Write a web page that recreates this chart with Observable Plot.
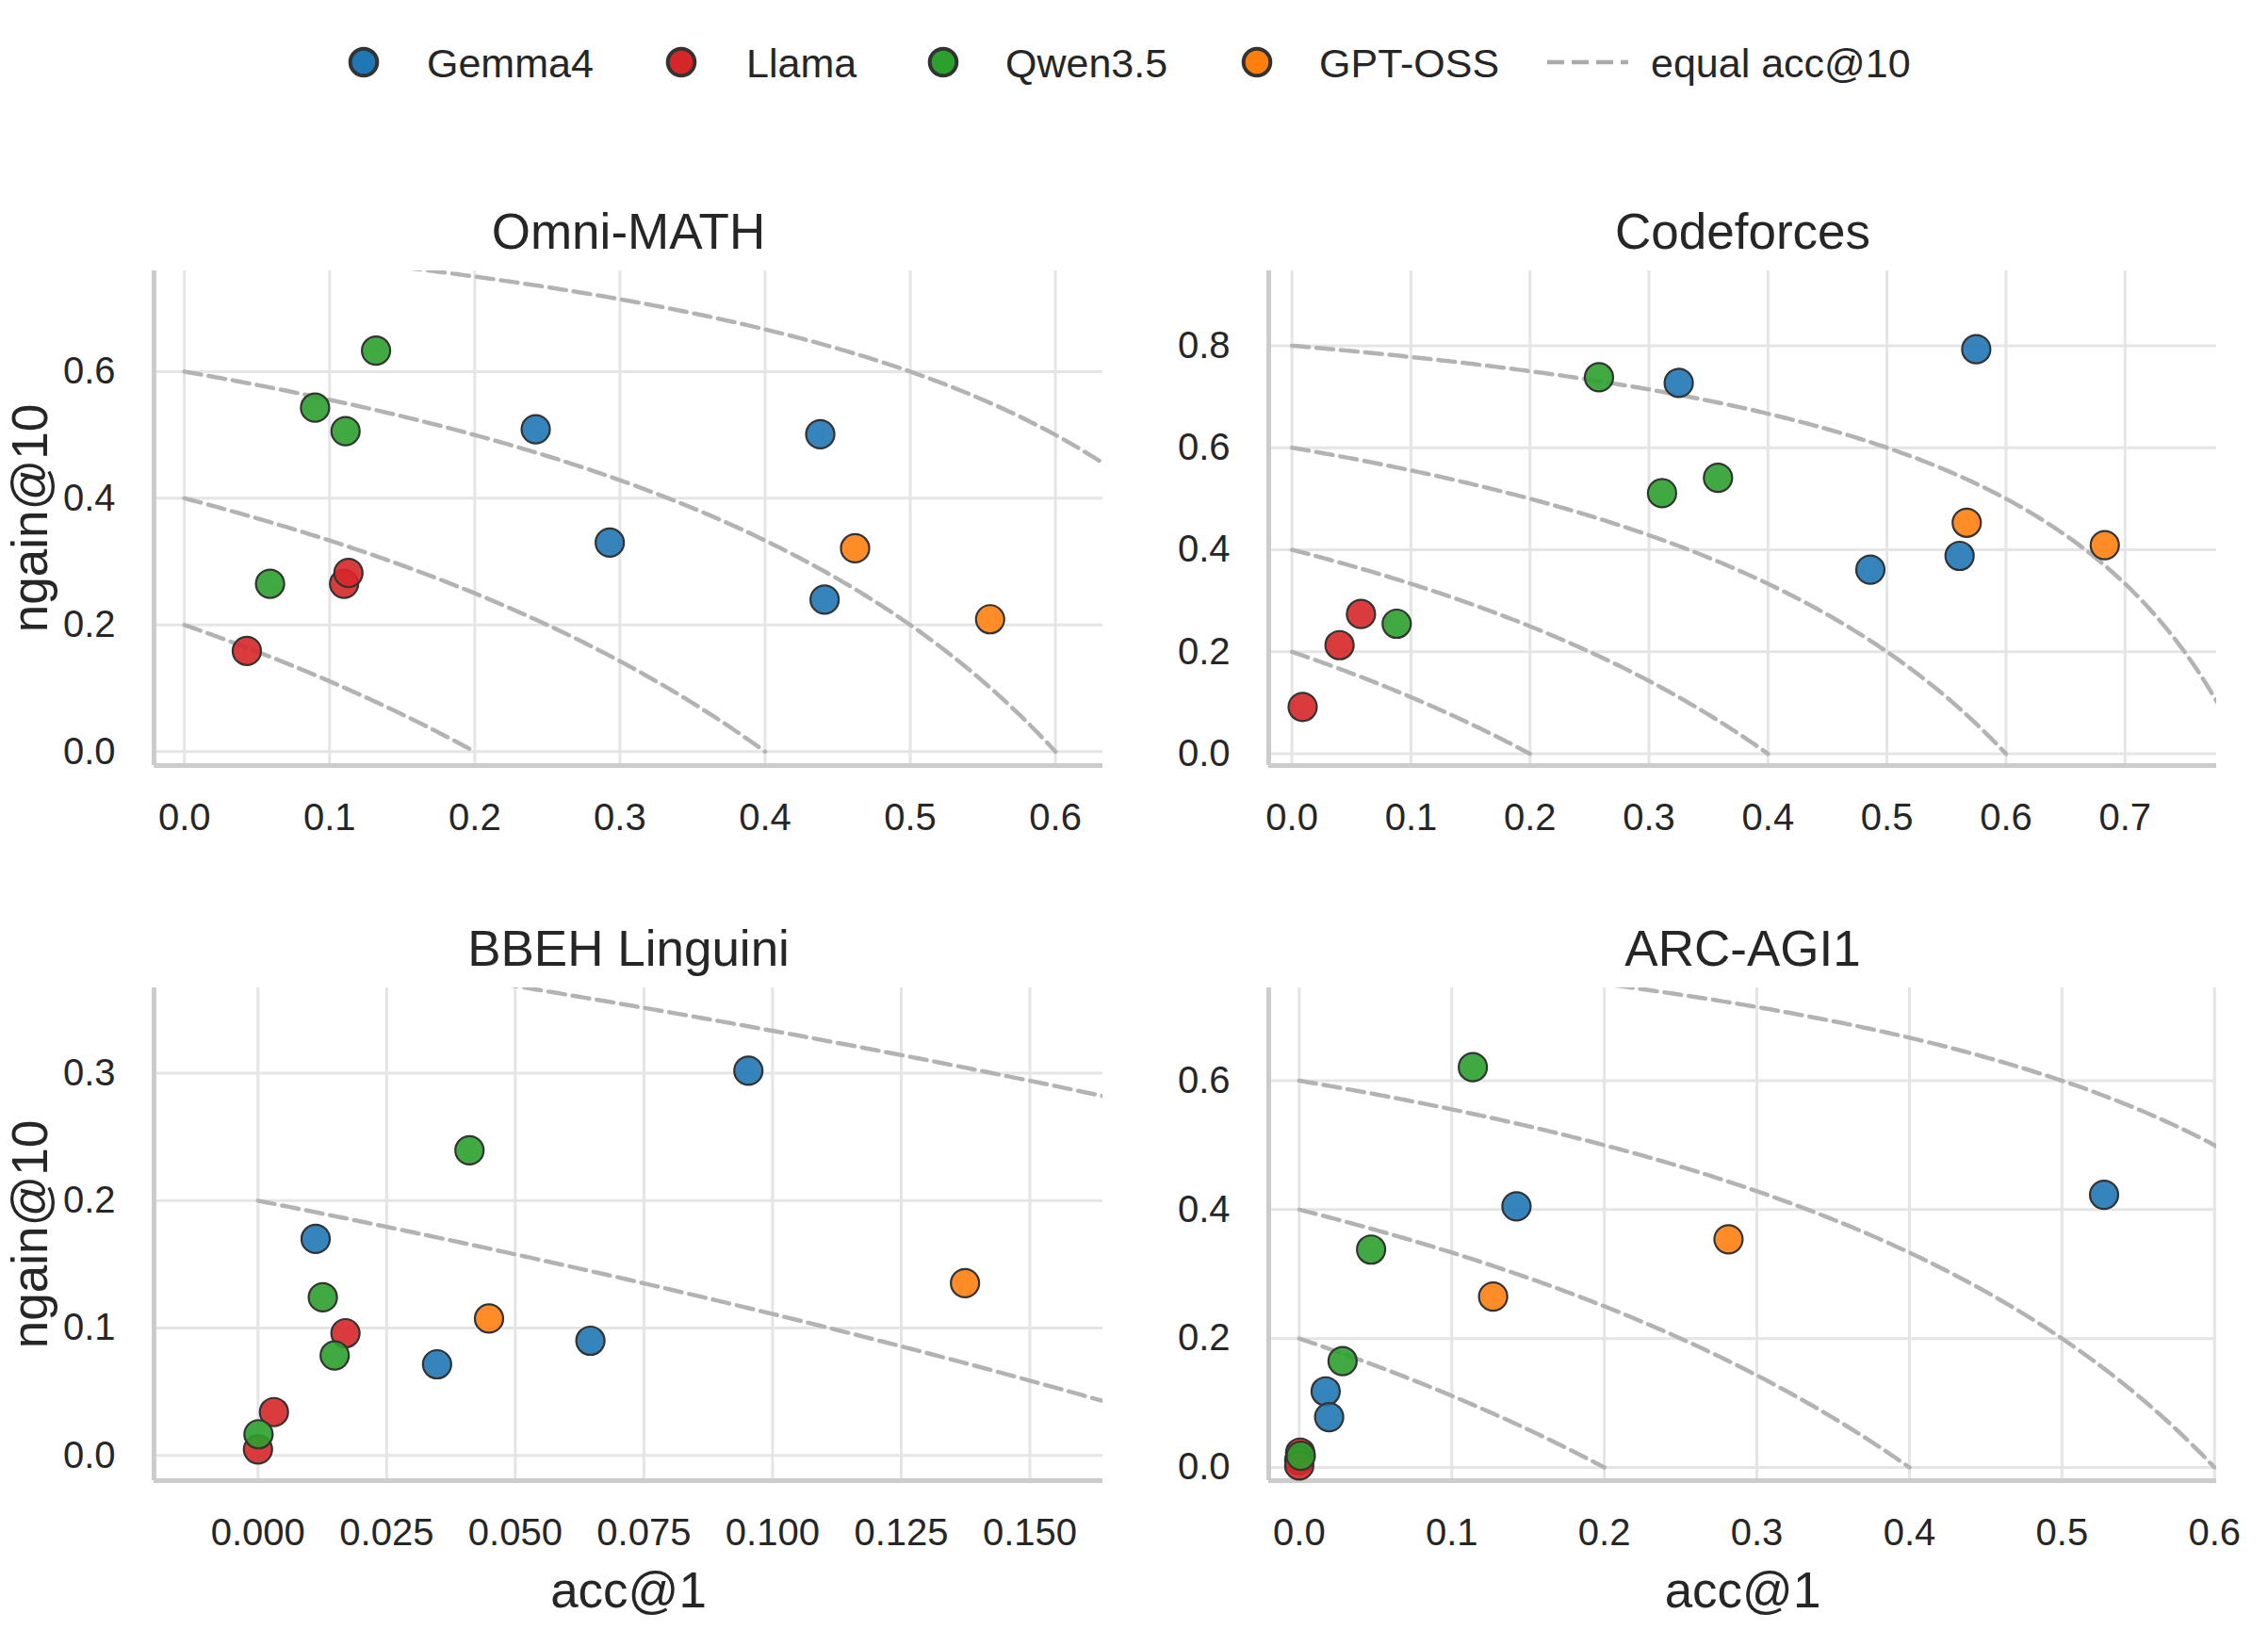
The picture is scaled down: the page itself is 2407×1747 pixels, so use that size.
<!DOCTYPE html>
<html>
<head>
<meta charset="utf-8">
<script src="https://cdn.jsdelivr.net/npm/d3@7"></script>
<script src="https://cdn.jsdelivr.net/npm/@observablehq/plot@0.6"></script>
<style>
  body { margin: 0; background: #fff; font-family: "Liberation Sans", Arial, Helvetica, sans-serif; }
  #page { position: relative; width: 2407px; height: 1747px; overflow: hidden; background: #fff; }
  .panel { position: absolute; }
</style>
</head>
<body>
<div id="page"></div>
<script>
// Model families and their colours
const families = ["Gemma4", "Llama", "Qwen3.5", "GPT-OSS"];
const familyColors = ["#1f77b4", "#d62728", "#2ca02c", "#ff7f0e"];
// Reference curves: constant acc@10 levels
const accLevels = [0.2, 0.4, 0.6, 0.8];

// Omni-MATH
const omniFamily = ["Gemma4", "Gemma4", "Gemma4", "Gemma4", "Llama", "Llama", "Llama", "Qwen3.5", "Qwen3.5", "Qwen3.5", "Qwen3.5", "GPT-OSS", "GPT-OSS"];
const omniAcc1   = [0.242, 0.438, 0.293, 0.441, 0.043, 0.110, 0.113, 0.132, 0.090, 0.111, 0.059, 0.462, 0.555];
const omniNgain  = [0.509, 0.501, 0.330, 0.240, 0.159, 0.265, 0.282, 0.633, 0.543, 0.506, 0.265, 0.321, 0.209];

// Codeforces
const cfFamily = ["Gemma4", "Gemma4", "Gemma4", "Gemma4", "Llama", "Llama", "Llama", "Qwen3.5", "Qwen3.5", "Qwen3.5", "Qwen3.5", "GPT-OSS", "GPT-OSS"];
const cfAcc1   = [0.325, 0.575, 0.561, 0.486, 0.009, 0.040, 0.058, 0.088, 0.258, 0.311, 0.358, 0.567, 0.683];
const cfNgain  = [0.727, 0.793, 0.388, 0.361, 0.092, 0.213, 0.274, 0.255, 0.738, 0.511, 0.541, 0.453, 0.409];

// BBEH Linguini
const bbehFamily = ["Gemma4", "Gemma4", "Gemma4", "Gemma4", "Llama", "Llama", "Llama", "Qwen3.5", "Qwen3.5", "Qwen3.5", "Qwen3.5", "GPT-OSS", "GPT-OSS"];
const bbehAcc1   = [0.0953, 0.0112, 0.0348, 0.0646, 0.0170, 0.0031, 0.0000, 0.0411, 0.0126, 0.0149, 0.0001, 0.0449, 0.1374];
const bbehNgain  = [0.302, 0.170, 0.0716, 0.0901, 0.096, 0.0341, 0.0048, 0.2395, 0.1242, 0.0786, 0.0167, 0.1075, 0.1353];

// ARC-AGI1
const arcFamily = ["Gemma4", "Gemma4", "Gemma4", "Gemma4", "Llama", "Llama", "Llama", "Qwen3.5", "Qwen3.5", "Qwen3.5", "Qwen3.5", "GPT-OSS", "GPT-OSS"];
const arcAcc1   = [0.1424, 0.5276, 0.0173, 0.0196, 0.0006, 0.0000, 0.0000, 0.1138, 0.0471, 0.0284, 0.0010, 0.2814, 0.1271];
const arcNgain  = [0.405, 0.423, 0.118, 0.078, 0.023, 0.011, 0.003, 0.621, 0.338, 0.165, 0.018, 0.354, 0.265];

// Axis ticks
const ticks01to06 = [0, 0.1, 0.2, 0.3, 0.4, 0.5, 0.6];
const ticks01to07 = [0, 0.1, 0.2, 0.3, 0.4, 0.5, 0.6, 0.7];
const ticksBbehX  = [0, 0.025, 0.05, 0.075, 0.1, 0.125, 0.15];
const ticks02to06 = [0, 0.2, 0.4, 0.6];
const ticks02to08 = [0, 0.2, 0.4, 0.6, 0.8];
const ticksBbehY  = [0, 0.1, 0.2, 0.3];

// Grid layout of the four panels (SVG boxes and margins, in px)
const cols = [
  {left: 0,    width: 1190, marginLeft: 163, marginRight: 20},
  {left: 1190, width: 1217, marginLeft: 156, marginRight: 55}
];
const rows = [
  {top: 180, height: 720, marginTop: 107, marginBottom: 88},
  {top: 900, height: 847, marginTop: 148, marginBottom: 176}
];

const panels = [
  {title: "Omni-MATH", family: omniFamily, acc1: omniAcc1, ngain: omniNgain,
   xDomain: [-0.0209, 0.6327], yDomain: [-0.0219, 0.759], xTicks: ticks01to06, yTicks: ticks02to06,
   xFormat: d3.format(".1f"), yFormat: d3.format(".1f"), col: 0, row: 0},
  {title: "Codeforces", family: cfFamily, acc1: cfAcc1, ngain: cfNgain,
   xDomain: [-0.0195, 0.777], yDomain: [-0.0229, 0.9466], xTicks: ticks01to07, yTicks: ticks02to08,
   xFormat: d3.format(".1f"), yFormat: d3.format(".1f"), col: 1, row: 0},
  {title: "BBEH Linguini", family: bbehFamily, acc1: bbehAcc1, ngain: bbehNgain,
   xDomain: [-0.0202, 0.1642], yDomain: [-0.0197, 0.367], xTicks: ticksBbehX, yTicks: ticksBbehY,
   xFormat: d3.format(".3f"), yFormat: d3.format(".1f"), col: 0, row: 1},
  {title: "ARC-AGI1", family: arcFamily, acc1: arcAcc1, ngain: arcNgain,
   xDomain: [-0.02, 0.6014], yDomain: [-0.0205, 0.744], xTicks: ticks01to06, yTicks: ticks02to06,
   xFormat: d3.format(".1f"), yFormat: d3.format(".1f"), col: 1, row: 1}
];

// Curves of equal acc@10: ngain = (c - acc1) / (1 - acc1)
const isoCurves = accLevels.flatMap(c =>
  d3.range(0, 201).map(i => {
    const x = c * i / 200;
    return {level: c, x, y: (c - x) / (1 - x)};
  })
);

const page = document.getElementById("page");
const textColor = "#262626";
const fontFamily = "'Liberation Sans', Arial, Helvetica, sans-serif";
const dashPattern = "18,8";

// Legend row
const legendNS = "http://www.w3.org/2000/svg";
const legend = document.createElementNS(legendNS, "svg");
legend.setAttribute("width", 2407);
legend.setAttribute("height", 140);
legend.setAttribute("class", "panel");
legend.style.left = "0px";
legend.style.top = "0px";
const legendMarkerX = [386, 723, 1001, 1334];
const legendTextX = [453, 792, 1067, 1400];
families.forEach((f, i) => {
  const c = document.createElementNS(legendNS, "circle");
  c.setAttribute("cx", legendMarkerX[i]);
  c.setAttribute("cy", 66);
  c.setAttribute("r", 14.3);
  c.setAttribute("fill", familyColors[i]);
  c.setAttribute("stroke", "#333333");
  c.setAttribute("stroke-width", 4);
  legend.appendChild(c);
  const t = document.createElementNS(legendNS, "text");
  t.setAttribute("x", legendTextX[i]);
  t.setAttribute("y", 82);
  t.setAttribute("font-size", 43);
  t.setAttribute("font-family", fontFamily);
  t.setAttribute("fill", textColor);
  t.textContent = f;
  legend.appendChild(t);
});
const dash = document.createElementNS(legendNS, "line");
dash.setAttribute("x1", 1642); dash.setAttribute("x2", 1728);
dash.setAttribute("y1", 66); dash.setAttribute("y2", 66);
dash.setAttribute("stroke", "#aaaaaa");
dash.setAttribute("stroke-width", 4.5);
dash.setAttribute("stroke-dasharray", dashPattern);
legend.appendChild(dash);
const dashText = document.createElementNS(legendNS, "text");
dashText.setAttribute("x", 1752);
dashText.setAttribute("y", 82);
dashText.setAttribute("font-size", 43);
dashText.setAttribute("font-family", fontFamily);
dashText.setAttribute("fill", textColor);
dashText.textContent = "equal acc@10";
legend.appendChild(dashText);
page.appendChild(legend);

// The four scatter panels
for (const p of panels) {
  const col = cols[p.col], row = rows[p.row];
  const points = p.acc1.map((a, i) => ({family: p.family[i], acc1: a, ngain: p.ngain[i]}))
    .sort((a, b) => families.indexOf(a.family) - families.indexOf(b.family));

  const marks = [
    Plot.gridX(p.xTicks, {stroke: "#e5e5e5", strokeOpacity: 1, strokeWidth: 3}),
    Plot.gridY(p.yTicks, {stroke: "#e5e5e5", strokeOpacity: 1, strokeWidth: 3}),
    Plot.ruleX([p.xDomain[0]], {stroke: "#cccccc", strokeWidth: 5}),
    Plot.ruleY([p.yDomain[0]], {stroke: "#cccccc", strokeWidth: 5}),
    Plot.line(isoCurves, {x: "x", y: "y", z: "level", stroke: "#b3b3b3", strokeWidth: 4.5,
      strokeDasharray: dashPattern, clip: true}),
    Plot.dot(points, {x: "acc1", y: "ngain", fill: "family", r: 15, fillOpacity: 0.9,
      stroke: "#333333", strokeWidth: 2.2}),
    Plot.axisX(p.xTicks, {tickSize: 0, tickPadding: 40, fontSize: 40, tickFormat: p.xFormat, label: null}),
    Plot.axisY(p.yTicks, {tickSize: 0, tickPadding: 41, fontSize: 40, tickFormat: p.yFormat, label: null}),
    Plot.text([p.title], {text: d => d, frameAnchor: "top", dy: -24, lineAnchor: "bottom",
      fontSize: 53, fill: textColor})
  ];
  if (p.col === 0) {
    marks.push(Plot.text(["ngain@10"], {text: d => d, frameAnchor: "left", dx: -114, rotate: -90,
      textAnchor: "middle", lineAnchor: "bottom", fontSize: 53, fill: textColor}));
  }
  if (p.row === 1) {
    marks.push(Plot.text(["acc@1"], {text: d => d, frameAnchor: "bottom", dy: 134,
      textAnchor: "middle", lineAnchor: "bottom", fontSize: 53, fill: textColor}));
  }

  const svg = Plot.plot({
    width: col.width,
    height: row.height,
    marginLeft: col.marginLeft,
    marginRight: col.marginRight,
    marginTop: row.marginTop,
    marginBottom: row.marginBottom,
    x: {domain: p.xDomain},
    y: {domain: p.yDomain},
    color: {domain: families, range: familyColors},
    style: {fontFamily, color: textColor, background: "transparent", overflow: "visible"},
    marks
  });
  svg.classList.add("panel");
  svg.style.left = col.left + "px";
  svg.style.top = row.top + "px";
  page.appendChild(svg);
}
</script>
</body>
</html>
